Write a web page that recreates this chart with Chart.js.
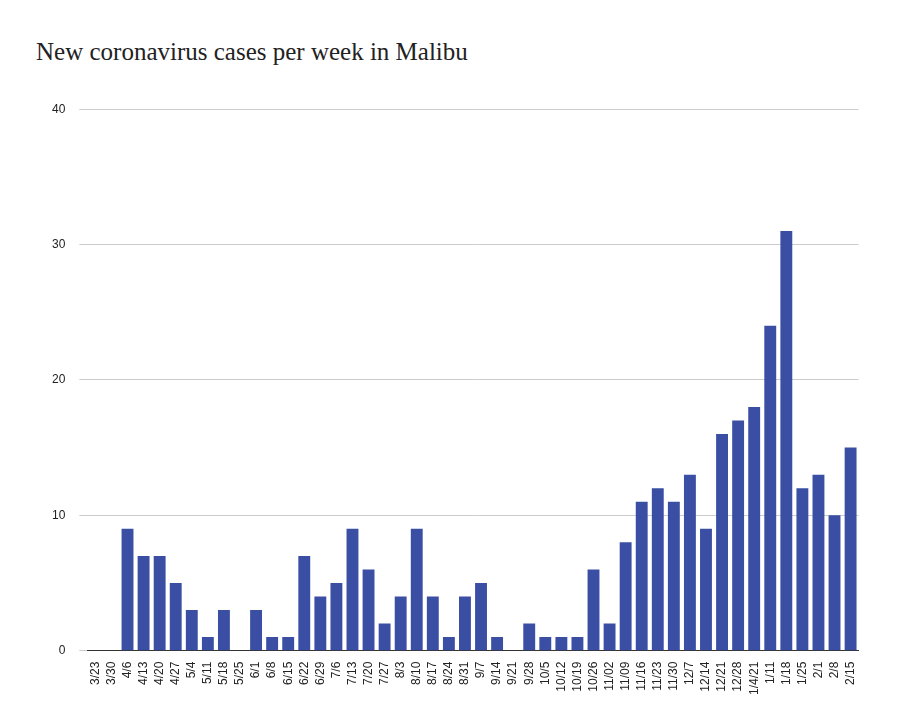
<!DOCTYPE html>
<html lang="en">
<head>
    <meta charset="UTF-8">
    <title>New coronavirus cases per week in Malibu</title>
    <script src="https://cdn.jsdelivr.net/npm/chart.js"></script>
    <style>
        body { margin: 0; background: #fff; }
        #wrap { position: relative; width: 900px; height: 704px; }
        h1 {
            position: absolute; left: 36px; top: 38px; margin: 0;
            font-family: "Liberation Serif", serif; font-weight: normal;
            font-size: 25px; color: #222;
        }
        #chartBox { position: absolute; left: 38px; top: 88px; width: 830px; height: 610px; }
    </style>
</head>
<body>
<div id="wrap">
    <h1>New coronavirus cases per week in Malibu</h1>
    <div id="chartBox"><canvas id="casesChart"></canvas></div>
</div>
<script>
    const weeks = ['3/23', '3/30', '4/6', '4/13', '4/20', '4/27', '5/4', '5/11', '5/18', '5/25',
        '6/1', '6/8', '6/15', '6/22', '6/29', '7/6', '7/13', '7/20', '7/27', '8/3',
        '8/10', '8/17', '8/24', '8/31', '9/7', '9/14', '9/21', '9/28', '10/5', '10/12',
        '10/19', '10/26', '11/02', '11/09', '11/16', '11/23', '11/30', '12/7', '12/14', '12/21',
        '12/28', '1/4/21', '1/11', '1/18', '1/25', '2/1', '2/8', '2/15'];
    const cases = [0, 0, 9, 7, 7, 5, 3, 1, 3, 0,
        3, 1, 1, 7, 4, 5, 9, 6, 2, 4,
        9, 4, 1, 4, 5, 1, 0, 2, 1, 1,
        1, 6, 2, 8, 11, 12, 11, 13, 9, 16,
        17, 18, 24, 31, 12, 13, 10, 15];
    const yTicks = [0, 10, 20, 30, 40];

    new Chart(document.getElementById('casesChart'), {
        type: 'bar',
        data: {
            labels: weeks,
            datasets: [{
                data: cases,
                backgroundColor: '#3a4fa3',
                barPercentage: 0.74,
                categoryPercentage: 1.0
            }]
        },
        options: {
            responsive: true,
            maintainAspectRatio: false,
            animation: false,
            plugins: { legend: { display: false }, tooltip: { enabled: false } },
            scales: {
                x: {
                    grid: { display: false },
                    border: { color: '#333' },
                    ticks: {
                        autoSkip: false, maxRotation: 90, minRotation: 90,
                        color: '#222', font: { family: 'Liberation Sans', size: 12 }
                    }
                },
                y: {
                    min: 0, max: 40,
                    afterBuildTicks: axis => { axis.ticks = yTicks.map(v => ({ value: v })); },
                    grid: { color: '#cccccc' },
                    border: { display: false },
                    ticks: { padding: 14, color: '#222', font: { family: 'Liberation Sans', size: 12 } }
                }
            }
        }
    });
</script>
</body>
</html>
